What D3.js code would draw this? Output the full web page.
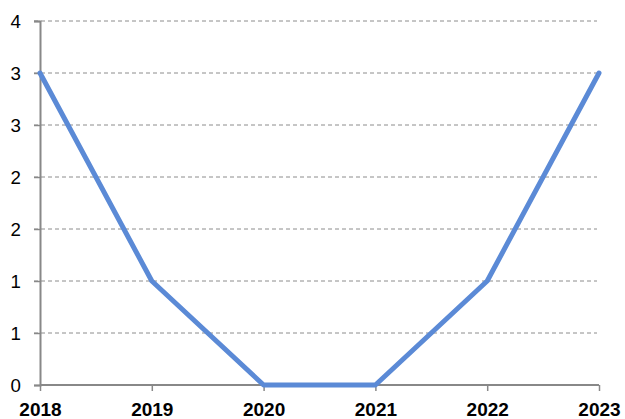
<!DOCTYPE html>
<html>
<head>
<meta charset="utf-8">
<script src="https://cdn.jsdelivr.net/npm/d3@7"></script>
<style>
	body { margin: 0; background: #fff; }
	text { font-family: "Liberation Sans", Arial, sans-serif; fill: #000; }
</style>
</head>
<body>
<svg id="chart" width="625" height="419"></svg>
<script>
const years = ['2018', '2019', '2020', '2021', '2022', '2023']
const values = [3, 1, 0, 0, 1, 3]
const yTicks = [0, 0.5, 1, 1.5, 2, 2.5, 3, 3.5]

const svg = d3.select('#chart')
const margin = { left: 40, right: 599, top: 21, bottom: 385 }

const x = d3.scalePoint().domain(years).range([margin.left, margin.right])
const y = d3.scaleLinear().domain([0, 3.5]).range([margin.bottom, margin.top])

// gridlines
svg.append('g')
	.selectAll('line')
	.data(yTicks.filter((t) => t > 0))
	.enter()
	.append('line')
	.attr('x1', margin.left - 6)
	.attr('x2', margin.right - 2)
	.attr('y1', (d) => y(d))
	.attr('y2', (d) => y(d))
	.attr('stroke', '#8c8c8c')
	.attr('stroke-width', 1)
	.attr('stroke-dasharray', '4,3')

// y axis
const yAxis = svg.append('g')
	.attr('transform', `translate(${margin.left},0)`)
	.call(d3.axisLeft(y).tickValues(yTicks).tickSize(6).tickFormat((d) => Math.round(d + 1e-9)))
yAxis.select('.domain').attr('stroke', '#888').attr('stroke-width', 2)
yAxis.selectAll('.tick line').attr('stroke', '#888').attr('stroke-width', 1.5)
yAxis.selectAll('.tick text')
	.attr('font-size', 18.7)
	.attr('x', -19)
	.attr('dy', '0.36em')

// x axis
const xAxis = svg.append('g')
	.attr('transform', `translate(0,${margin.bottom})`)
	.call(d3.axisBottom(x).tickSize(6))
xAxis.select('.domain').attr('stroke', '#888').attr('stroke-width', 2).attr('d', `M${margin.left},0H${margin.right}`)
xAxis.selectAll('.tick line').attr('stroke', '#888').attr('stroke-width', 1.5)
xAxis.selectAll('.tick text')
	.attr('font-size', 19)
	.attr('font-weight', 'bold')
	.attr('y', 31)
	.attr('dy', 0)

// series
const line = d3.line()
	.x((d, i) => x(years[i]))
	.y((d) => y(d))

svg.append('path')
	.datum(values)
	.attr('d', line)
	.attr('fill', 'none')
	.attr('stroke', '#5b8ad6')
	.attr('stroke-width', 5)
	.attr('stroke-linejoin', 'round')
	.attr('stroke-linecap', 'round')
</script>
</body>
</html>
